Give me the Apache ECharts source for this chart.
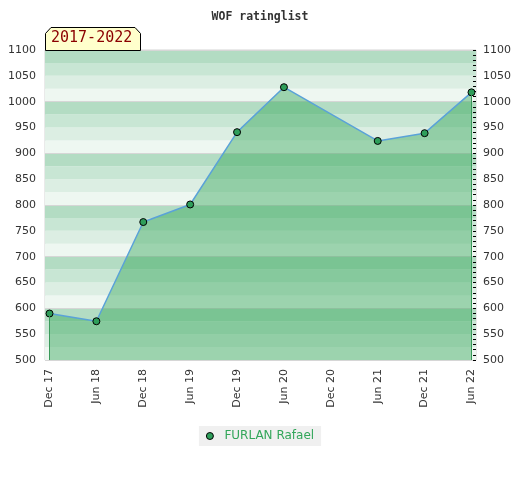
<!DOCTYPE html>
<html>
<head>
<meta charset="utf-8">
<script src="https://cdn.jsdelivr.net/npm/echarts@6/dist/echarts.min.js"></script>
<style>
html,body{margin:0;padding:0;background:#fff;}
#chart{width:520px;height:480px;}
</style>
</head>
<body>
<div id="chart"></div>
<script>
const chartTitle = 'WOF ratinglist';
const periodLabel = '2017-2022';
const playerName = 'FURLAN Rafael';
const tickLabels = ['Dec 17','Jun 18','Dec 18','Jun 19','Dec 19','Jun 20','Dec 20','Jun 21','Dec 21','Jun 22'];
const ratingDates = ['Dec 17','Jun 18','Dec 18','Jun 19','Dec 19','Jun 20','Jun 21','Dec 21','Jun 22'];
const ratings = [590, 575, 767, 801, 941, 1028, 924, 939, 1018];
const yMin = 500, yMax = 1100;

const seriesData = ratingDates.map((d, i) => [tickLabels.indexOf(d), ratings[i]]);
const first = seriesData[0], last = seriesData[seriesData.length - 1];
const tickIdx = tickLabels.map((_, i) => i);

const chart = echarts.init(document.getElementById('chart'), null, {renderer: 'canvas'});
const axisFont = {fontFamily: 'DejaVu Sans', fontSize: 11, color: '#333'};
const plainNum = v => String(v);

chart.setOption({
  animation: false,
  backgroundColor: '#fff',
  title: {
    text: chartTitle, left: 'center', top: 6,
    textStyle: {fontFamily: 'DejaVu Sans Mono', fontSize: 11.5, fontWeight: 'bold', color: '#333'}
  },
  legend: {
    data: [playerName], bottom: 34, left: 'center',
    backgroundColor: '#f0f0f0', padding: [4, 7, 4, 7],
    icon: 'circle', itemWidth: 7, itemHeight: 7,
    itemStyle: {color: '#2e9e5a', borderColor: '#000', borderWidth: 1},
    textStyle: {fontFamily: 'DejaVu Sans', fontSize: 12, color: '#33a65a', padding: [0, 0, 0, 6]}
  },
  grid: {left: 45, right: 44, top: 50, bottom: 120, show: true, borderColor: '#d4d4d4', borderWidth: 1},
  xAxis: {
    type: 'value', min: -0.096, max: 9.096,
    axisLine: {show: false}, axisTick: {show: false}, splitLine: {show: false},
    axisLabel: Object.assign({
      customValues: tickIdx, rotate: 90, margin: 9,
      formatter: v => tickLabels[Math.round(v)]
    }, axisFont)
  },
  yAxis: [
    {
      type: 'value', position: 'left', min: yMin, max: yMax, interval: 50,
      axisLine: {show: false}, axisTick: {show: false}, splitLine: {show: false},
      axisLabel: Object.assign({margin: 9, formatter: plainNum}, axisFont)
    },
    {
      type: 'value', position: 'right', min: yMin, max: yMax, interval: 50,
      axisLine: {show: false},
      axisTick: {show: true, inside: true, length: 3, lineStyle: {color: '#000'}},
      minorTick: {show: true, splitNumber: 5, length: 3, lineStyle: {color: '#000'}},
      splitLine: {show: false},
      axisLabel: Object.assign({margin: 7, formatter: plainNum}, axisFont)
    },
    {
      type: 'value', position: 'left', min: yMin, max: yMax, interval: 25,
      axisLine: {show: false}, axisTick: {show: false}, axisLabel: {show: false},
      splitLine: {show: true, lineStyle: {color: ['#d6d6d6', 'rgba(0,0,0,0)', 'rgba(0,0,0,0)', 'rgba(0,0,0,0)'], width: 1}},
      splitArea: {show: true, areaStyle: {color: ['#eef7f1', '#dceee3', '#c8e6d4', '#b3dcc3']}}
    }
  ],
  graphic: [
    {
      type: 'polygon', z: 100,
      shape: {points: [[45.5, 50.5], [45.5, 33.5], [51, 27.5], [135, 27.5], [140.5, 33.5], [140.5, 50.5]]},
      style: {fill: '#ffffcc', stroke: '#000', lineWidth: 1}
    },
    {
      type: 'text', z: 101, left: 51, top: 31,
      style: {text: periodLabel, fontFamily: 'DejaVu Sans Mono', fontSize: 15, fill: '#8b0000'}
    }
  ],
  series: [{
    name: playerName, type: 'line', yAxisIndex: 0,
    data: seriesData,
    symbol: 'circle', symbolSize: 7,
    itemStyle: {color: '#2e9e5a', borderColor: '#000', borderWidth: 1},
    lineStyle: {color: '#5aa2d8', width: 1.5},
    areaStyle: {color: 'rgba(43,162,82,0.42)', opacity: 1, origin: 'start'},
    markLine: {
      silent: true, symbol: 'none', label: {show: false},
      emphasis: {disabled: true},
      lineStyle: {color: '#3a9a5a', width: 1, type: 'solid', opacity: 1},
      data: [
        [{coord: [first[0], first[1]]}, {coord: [first[0], yMin]}],
        [{coord: [last[0], last[1]]}, {coord: [last[0], yMin]}]
      ]
    }
  }]
});
</script>
</body>
</html>
